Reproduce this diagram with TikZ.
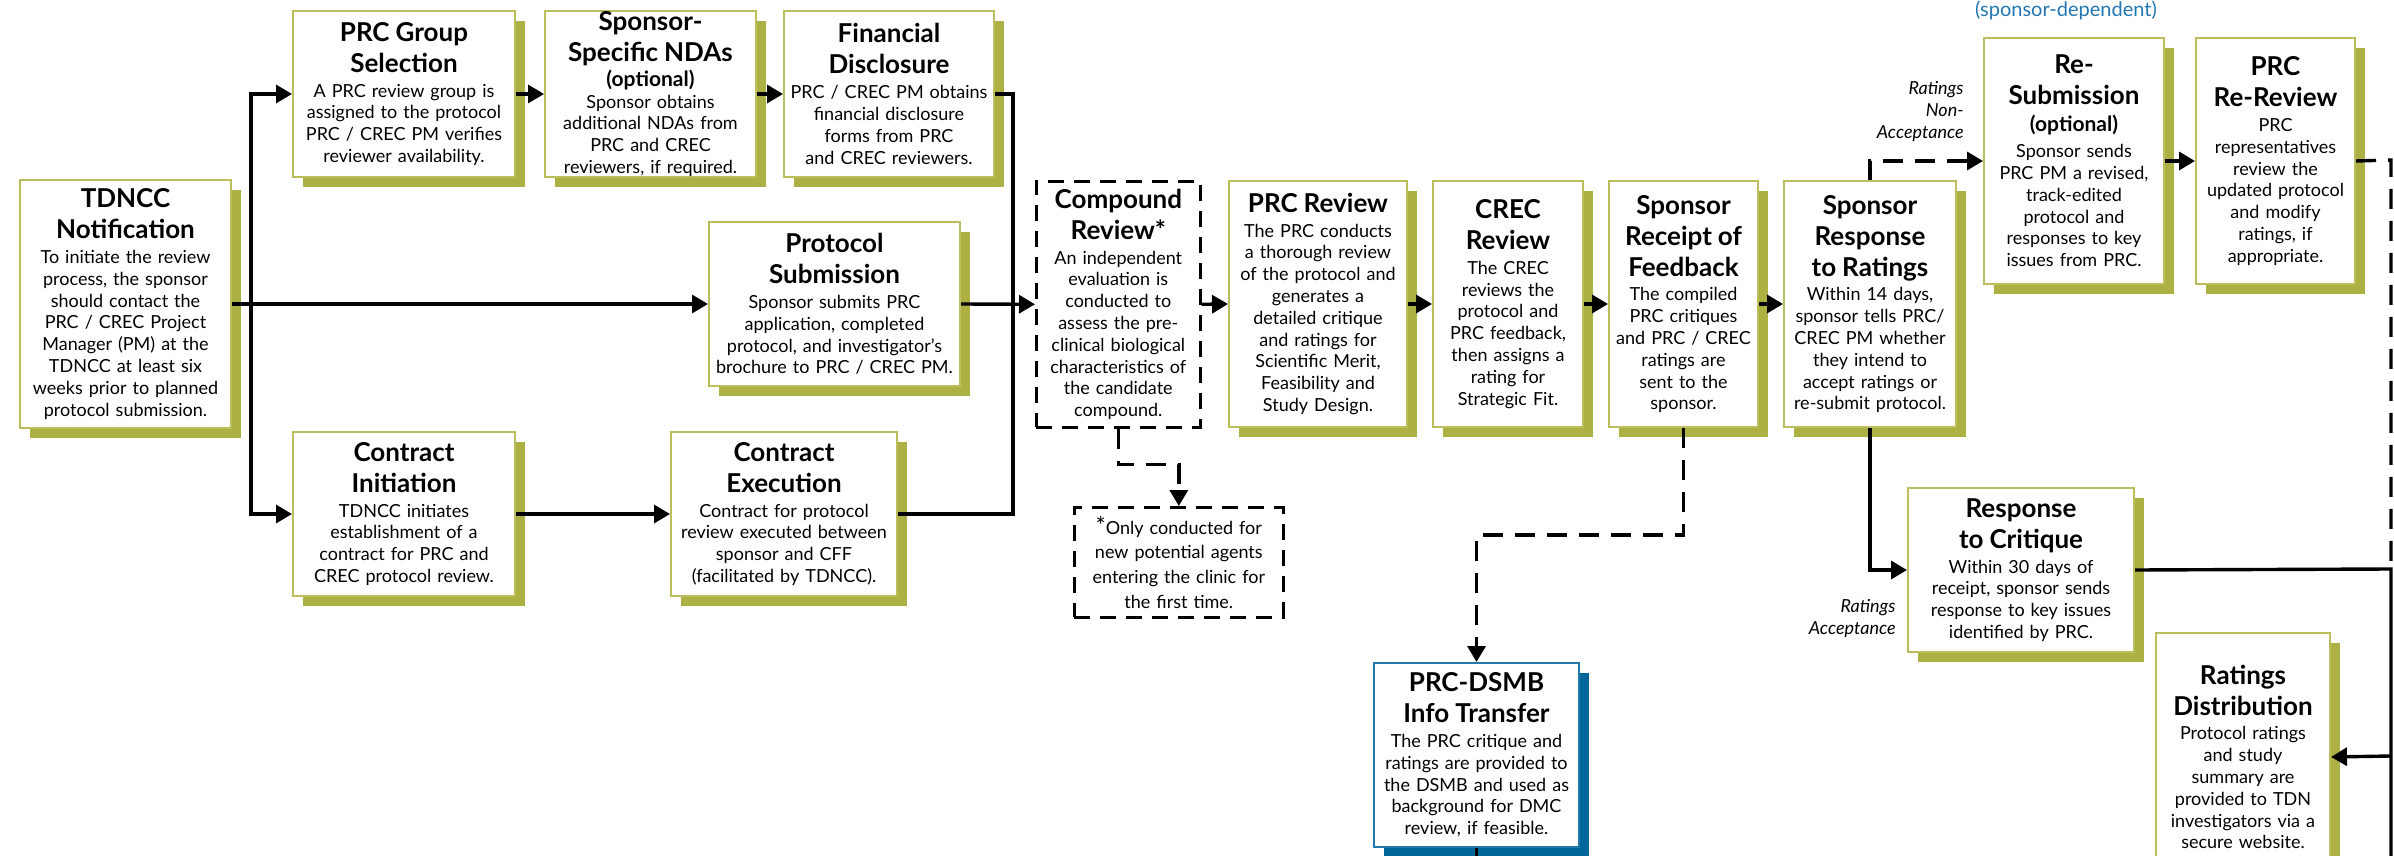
\documentclass[tikz,border=0pt]{standalone}
\usepackage{fontspec}
\setmainfont{Lato}
\usetikzlibrary{arrows.meta,shadows}
\definecolor{stageshade}{RGB}{173,176,66}
\definecolor{stageline}{RGB}{188,190,92}
\definecolor{dsmbshade}{RGB}{0,103,155}
\definecolor{dsmbline}{RGB}{36,121,171}
\definecolor{notecolor}{RGB}{34,118,178}
\newcommand{\stagehead}[1]{{\fontsize{13}{15.5}\selectfont\bfseries #1\par}\vspace{1.5pt}}

\begin{document}
\begin{tikzpicture}[x=0.5pt,y=0.5pt,yscale=-1,
  box/.style={line width=1pt, fill=white, anchor=north west, align=center,
    inner xsep=1.5pt, inner ysep=0pt, font=\fontsize{9}{10.9}\selectfont},
  stage/.style={box, draw=stageline,
    drop shadow={shadow xshift=5pt, shadow yshift=-5pt, fill=stageshade, opacity=1}},
  dsmbstage/.style={box, draw=dsmbline,
    drop shadow={shadow xshift=5pt, shadow yshift=-5pt, fill=dsmbshade, opacity=1}},
  dashbox/.style={box, draw=black, line width=1.3pt, dash pattern=on 8pt off 5pt},
  link/.style={line width=1.7pt},
  flow/.style={link, -{Triangle[length=8pt,width=9pt]}},
  dashlink/.style={link, dash pattern=on 10pt off 6pt},
  dashflow/.style={flow, dash pattern=on 10pt off 6pt},
  remark/.style={inner sep=0pt, anchor=north east, align=right, font=\fontsize{9}{11}\selectfont\itshape}]
\useasboundingbox (0,0) rectangle (2394,856);
\clip (0,0) rectangle (2394,856);

% Text Node
\node [stage, text width=102.5pt, minimum height=124pt] (tdncc) at (19,179) {\stagehead{TDNCC\\Notification}To initiate the review\\process, the sponsor\\should contact the\\PRC / CREC Project\\Manager (PM) at the\\TDNCC at least six\\weeks prior to planned\\protocol submission.};
% Text Node
\node [stage, text width=108pt, minimum height=83pt] (prcgroup) at (292,10) {\stagehead{PRC Group\\Selection}A PRC review group is\\assigned to the protocol\\PRC / CREC PM verifies\\reviewer availability.};
% Text Node
\node [stage, text width=102.5pt, minimum height=83pt] (ndas) at (544,10) {\stagehead{Sponsor-\\Specific NDAs}{\fontsize{10.5}{11}\selectfont\bfseries (optional)\par}Sponsor obtains\\additional NDAs from\\PRC and CREC\\reviewers, if required.};
% Text Node
\node [stage, text width=102pt, minimum height=83pt] (findisc) at (783,10) {\stagehead{Financial\\Disclosure}PRC / CREC PM obtains\\financial disclosure\\forms from PRC\\and CREC reviewers.};
% Text Node
\node [stage, text width=122.5pt, minimum height=82pt] (protsub) at (708,221) {\stagehead{Protocol\\Submission}Sponsor submits PRC\\application, completed\\protocol, and investigator’s\\brochure to PRC / CREC PM.};
% Text Node
\node [stage, text width=108pt, minimum height=82pt] (continit) at (292,431) {\stagehead{Contract\\Initiation}TDNCC initiates\\establishment of a\\contract for PRC and\\CREC protocol review.};
% Text Node
\node [stage, text width=110pt, minimum height=82pt] (contexec) at (670,431) {\stagehead{Contract\\Execution}Contract for protocol\\review executed between\\sponsor and CFF\\(facilitated by TDNCC).};
% Text Node
\node [dashbox, text width=79pt, minimum height=123pt] (compound) at (1035,180) {\stagehead{Compound\\Review*}An independent\\evaluation is\\conducted to\\assess the pre-\\clinical biological\\characteristics of\\the candidate\\compound.};
% Text Node
\node [dashbox, text width=101.5pt, minimum height=55pt, font=\fontsize{9}{12.3}\selectfont] (footnote) at (1073,506) {{\fontsize{12}{12}\selectfont *}Only conducted for\\new potential agents\\entering the clinic for\\the first time.};
% Text Node
\node [stage, text width=86pt, minimum height=123pt] (prcrev) at (1228,180) {\stagehead{PRC Review}The PRC conducts\\a thorough review\\of the protocol and\\generates a\\detailed critique\\and ratings for\\Scientific Merit,\\Feasibility and\\Study Design.};
% Text Node
\node [stage, text width=72pt, minimum height=123pt] (crecrev) at (1432,180) {\stagehead{CREC\\Review}The CREC\\reviews the\\protocol and\\PRC feedback,\\then assigns a\\rating for\\Strategic Fit.};
% Text Node
\node [stage, text width=71.5pt, minimum height=123pt] (sprecpt) at (1608,180) {\stagehead{Sponsor\\Receipt of\\Feedback}The compiled\\PRC critiques\\and PRC / CREC\\ratings are\\sent to the\\sponsor.};
% Text Node
\node [stage, text width=83pt, minimum height=123pt] (sprresp) at (1783,180) {\stagehead{Sponsor\\Response\\to Ratings}Within 14 days,\\sponsor tells PRC/\\CREC PM whether\\they intend to\\accept ratings or\\re-submit protocol.};
% Text Node
\node [stage, text width=87pt, minimum height=123pt] (resub) at (1983,37) {\stagehead{Re-\\Submission}{\fontsize{10.5}{12}\selectfont\bfseries (optional)\par}\vspace{2pt}Sponsor sends\\PRC PM a revised,\\track-edited\\protocol and\\responses to key\\issues from PRC.};
% Text Node
\node [stage, text width=76.5pt, minimum height=123pt] (prcrerev) at (2195,37) {\stagehead{PRC\\Re-Review}PRC\\representatives\\review the\\updated protocol\\and modify\\ratings, if\\appropriate.};
% Text Node
\node [stage, text width=110pt, minimum height=82pt] (respcrit) at (1907,487) {\stagehead{Response\\to Critique}Within 30 days of\\receipt, sponsor sends\\response to key issues\\identified by PRC.};
% Text Node
\node [stage, text width=84pt, minimum height=124pt] (ratdist) at (2155,632) {\stagehead{Ratings\\Distribution}Protocol ratings\\and study\\summary are\\provided to TDN\\investigators via a\\secure website.};
% Text Node
\node [dsmbstage, text width=99.5pt, minimum height=92pt] (dsmb) at (1373,662) {\stagehead{PRC-DSMB\\Info Transfer}The PRC critique and\\ratings are provided to\\the DSMB and used as\\background for DMC\\review, if feasible.};
% Text Node
\node [remark] (nonaccept) at (1964,81) {Ratings\\Non-\\Acceptance};
% Text Node
\node [remark] (accept) at (1896,599) {Ratings\\Acceptance};
% Text Node
\node [anchor=base, text=notecolor, font=\fontsize{10}{12}\selectfont] (sponsornote) at (2066,17) {(sponsor-dependent)};

\coordinate (split) at (251,303);
\coordinate (merge) at (1013,303);
\coordinate (rcorner) at (2391,160);
\coordinate (rjoin) at (2391,569);
\coordinate (rtap) at (2391,756);
\coordinate (rfoot) at (2391,900);

% Connection
\draw [flow] (tdncc.east) -- (protsub.west);
% Connection
\draw [flow] (split) |- (prcgroup.west);
% Connection
\draw [flow] (split) |- (continit.west);
% Connection
\draw [flow] (prcgroup.east) -- (ndas.west);
% Connection
\draw [flow] (ndas.east) -- (findisc.west);
% Connection
\draw [flow] (continit.east) -- (contexec.west);
% Connection
\draw [link] (findisc.east) -| (merge);
% Connection
\draw [link] (contexec.east) -| (merge);
% Connection
\draw [flow] (protsub.east) -- (compound.west);
% Connection
\draw [dashflow] (compound.south) -- ++(0,36) -| (footnote.north);
% Connection
\draw [flow] (compound.east) -- (prcrev.west);
% Connection
\draw [flow] (prcrev.east) -- (crecrev.west);
% Connection
\draw [flow] (crecrev.east) -- (sprecpt.west);
% Connection
\draw [flow] (sprecpt.east) -- (sprresp.west);
% Connection
\draw [dashflow] (sprecpt.south) -- ++(0,107) -| (dsmb.north);
% Connection
\draw [link] (dsmb.south) -- ++(0,40);
% Connection
\draw [dashflow] (sprresp.north) |- (resub.west);
% Connection
\draw [flow] (sprresp.south) |- (respcrit.west);
% Connection
\draw [flow] (resub.east) -- (prcrerev.west);
% Connection
\draw [dashlink] (prcrerev.east) -- (rcorner) -- (rjoin);
% Connection
\draw [link] (respcrit.east) -- (rjoin) -- (rfoot);
% Connection
\draw [flow] (rtap) -- (ratdist.east);

\end{tikzpicture}
\end{document}
